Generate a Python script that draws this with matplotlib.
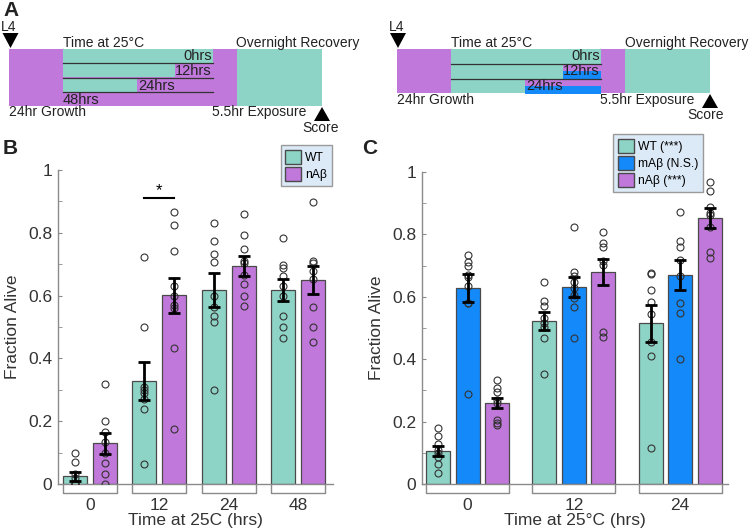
import numpy as np
import matplotlib
matplotlib.use("Agg")
import matplotlib.pyplot as plt
from matplotlib.patches import Rectangle, Polygon, Patch

plt.rcParams['font.family'] = ['Liberation Sans', 'DejaVu Sans']

TEAL = '#8dd4c6'
PURPLE = '#c078da'
BLUE = '#1489fa'
EDGE = '#4a4a4a'
GRAY = '#8a8a8a'
TXT = '#222222'

# panel B data
b_times = ['0', '12', '24', '48']
b_wt_mean = [0.025, 0.329, 0.617, 0.619]
b_wt_sem = [0.014, 0.060, 0.054, 0.035]
b_n_mean = [0.130, 0.601, 0.694, 0.650]
b_n_sem = [0.034, 0.055, 0.032, 0.045]
b_wt_pts = [
    [0.10, 0.07, 0.033, 0.02, 0.0, 0.0, 0.0, 0.0, 0.0],
    [0.724, 0.50, 0.31, 0.30, 0.29, 0.27, 0.24, 0.064],
    [0.832, 0.773, 0.732, 0.708, 0.60, 0.565, 0.536, 0.515, 0.298],
    [0.784, 0.698, 0.689, 0.663, 0.631, 0.60, 0.535, 0.50, 0.466],
]
b_n_pts = [
    [0.32, 0.20, 0.167, 0.133, 0.10, 0.067, 0.033, 0.0],
    [0.865, 0.826, 0.741, 0.632, 0.60, 0.57, 0.561, 0.432, 0.176],
    [0.861, 0.792, 0.748, 0.71, 0.703, 0.665, 0.636, 0.60, 0.567],
    [0.899, 0.71, 0.703, 0.678, 0.653, 0.565, 0.50, 0.453],
]

# panel C data
c_times = ['0', '12', '24']
c_wt_mean = [0.107, 0.522, 0.515]
c_wt_sem = [0.016, 0.028, 0.059]
c_m_mean = [0.628, 0.632, 0.670]
c_m_sem = [0.046, 0.032, 0.048]
c_n_mean = [0.259, 0.680, 0.854]
c_n_sem = [0.017, 0.041, 0.032]
c_wt_pts = [
    [0.18, 0.155, 0.128, 0.11, 0.10, 0.088, 0.063, 0.034],
    [0.648, 0.587, 0.571, 0.531, 0.517, 0.504, 0.469, 0.353],
    [0.677, 0.673, 0.622, 0.584, 0.544, 0.456, 0.411, 0.114],
]
c_m_pts = [
    [0.734, 0.71, 0.70, 0.67, 0.665, 0.635, 0.58, 0.58, 0.29],
    [0.825, 0.679, 0.668, 0.648, 0.627, 0.606, 0.595, 0.568, 0.467],
    [0.873, 0.779, 0.761, 0.718, 0.668, 0.579, 0.549, 0.40],
]
c_n_pts = [
    [0.333, 0.307, 0.296, 0.27, 0.26, 0.205, 0.196, 0.19],
    [0.807, 0.771, 0.761, 0.715, 0.702, 0.486, 0.47],
    [0.969, 0.939, 0.887, 0.87, 0.862, 0.825, 0.743, 0.725],
]


def style_axes(ax, xlim):
    ax.set_xlim(*xlim)
    ax.set_ylim(0, 1)
    for s in ['top', 'right']:
        ax.spines[s].set_visible(False)
    for s in ['left', 'bottom']:
        ax.spines[s].set_color(GRAY)
        ax.spines[s].set_linewidth(1)
    ax.set_yticks(np.arange(0, 1.01, 0.2))
    ax.set_yticklabels(['0', '0.2', '0.4', '0.6', '0.8', '1'])
    ax.set_yticks(np.arange(0.1, 1.0, 0.2), minor=True)
    ax.tick_params(axis='y', which='both', direction='in', length=3,
                   color=GRAY, labelsize=12.5, labelcolor='#333333', pad=4)
    ax.tick_params(axis='x', length=0, labelsize=12.5, labelcolor='#333333', pad=10)
    ax.set_ylabel('Fraction Alive', fontsize=12.5, color='#333333', labelpad=6)


def draw_group(ax, centers, offsets, width, means, sems, pts, colors):
    for k, (m, s, p, col) in enumerate(zip(means, sems, pts, colors)):
        x = centers + offsets[k]
        ax.bar(x, m, width=width, color=col, edgecolor=EDGE, linewidth=0.9, zorder=2)
        for xi, vals in zip(x, p):
            ax.plot(np.full(len(vals), xi), vals, 'o', ms=5, mfc='none',
                    mec='#333333', mew=0.8, zorder=3)
        ax.errorbar(x, m, yerr=s, fmt='none', ecolor='black', elinewidth=2,
                    capsize=4, capthick=2, zorder=4)
    # brackets below each group
    lo = offsets[0] - width / 2
    hi = offsets[-1] + width / 2
    for c in centers:
        ax.plot([c + lo, c + lo, c + hi, c + hi], [0, -0.028, -0.028, 0],
                color=GRAY, lw=1, clip_on=False, zorder=1)


def add_legend(ax, handles, loc, anchor):
    ax.legend(handles=handles, loc=loc, bbox_to_anchor=anchor,
              bbox_transform=fig.transFigure, fontsize=8.7, fancybox=False,
              facecolor='#dce9f6', edgecolor='#9a9a9a', framealpha=1,
              handlelength=1.3, handleheight=1.4, handletextpad=0.35,
              borderpad=0.4, labelspacing=0.25, borderaxespad=0)


fig = plt.figure(figsize=(7.49, 5.31), dpi=100)

# ---- panel B
axB = fig.add_axes([0.0774, 0.0885, 0.3672, 0.5913])
xb = np.arange(len(b_times))
draw_group(axB, xb, [-0.216, 0.216], 0.345,
           [b_wt_mean, b_n_mean], [b_wt_sem, b_n_sem], [b_wt_pts, b_n_pts],
           [TEAL, PURPLE])
style_axes(axB, (-0.46, 3.5))
axB.set_xticks(xb)
axB.set_xticklabels(b_times)
axB.set_xlabel('Time at 25C (hrs)', fontsize=12.5, color='#333333', labelpad=0)
axB.plot([1 - 0.216, 1 + 0.216], [0.91, 0.91], color='black', lw=1.5)
axB.text(1, 0.912, '*', ha='center', va='bottom', fontsize=12)
add_legend(axB, [Patch(facecolor=TEAL, edgecolor=EDGE, label='WT'),
                 Patch(facecolor=PURPLE, edgecolor=EDGE, label='nAβ')],
           'upper right', (332 / 749, 1 - 145 / 531))

# ---- panel C
axC = fig.add_axes([0.5634, 0.0885, 0.4085, 0.5876])
xc = np.arange(len(c_times))
draw_group(axC, xc, [-0.278, 0.0, 0.278], 0.226,
           [c_wt_mean, c_m_mean, c_n_mean], [c_wt_sem, c_m_sem, c_n_sem],
           [c_wt_pts, c_m_pts, c_n_pts], [TEAL, BLUE, PURPLE])
style_axes(axC, (-0.43, 2.45))
axC.set_xticks(xc)
axC.set_xticklabels(c_times)
axC.set_xlabel('Time at 25°C (hrs)', fontsize=12.5, color='#333333', labelpad=0)
add_legend(axC, [Patch(facecolor=TEAL, edgecolor=EDGE, label='WT (***)'),
                 Patch(facecolor=BLUE, edgecolor=EDGE, label='mAβ (N.S.)'),
                 Patch(facecolor=PURPLE, edgecolor=EDGE, label='nAβ (***)')],
           'upper left', (613 / 749, 1 - 134 / 531))

# ---- panel A schematic, drawn in pixel coordinates
ax0 = fig.add_axes([0, 0, 1, 1], zorder=-1)
ax0.set_xlim(0, 749)
ax0.set_ylim(531, 0)
ax0.axis('off')


def rect(x0, y0, x1, y1, col):
    ax0.add_patch(Rectangle((x0, y0), x1 - x0, y1 - y0, facecolor=col,
                            edgecolor='none'))


def txt(x, y, s, ha='left', size=10, **kw):
    ax0.text(x, y, s, ha=ha, va='center', fontsize=size, color=TXT, **kw)


def tri(x, y, down=True):
    h = 15 if down else -14
    ax0.add_patch(Polygon([(x - 8, y), (x + 8, y), (x, y + h)],
                          closed=True, facecolor='black', edgecolor='none'))


# left schematic
rect(9, 49, 237, 106, PURPLE)
rect(237, 49, 322, 106, TEAL)
left_rows_y = [49, 63, 78, 92]
left_rows_teal_end = [213, 175, 137, 63]
for y, xe in zip(left_rows_y, left_rows_teal_end):
    rect(63, y, xe, y + 14, TEAL)
for y in left_rows_y[1:]:
    ax0.plot([63, 213], [y, y], color='#333333', lw=0.9)
tri(10.5, 33)
tri(322, 121, down=False)
txt(9, 27, 'L4', ha='center')
txt(63, 43, 'Time at 25°C')
txt(236, 43, 'Overnight Recovery')
txt(212, 56, '0hrs', ha='right', size=10.5)
txt(212, 71, '12hrs', ha='right', size=10.5)
txt(138, 85.5, '24hrs', size=10.5)
txt(63, 99.5, '48hrs', size=10.5)
txt(9, 112, '24hr Growth')
txt(212, 112, '5.5hr Exposure')
txt(302, 128, 'Score')

# right schematic
rect(397, 49, 451, 93, PURPLE)
rect(451, 49, 601, 93, TEAL)
rect(601, 49, 625, 93, PURPLE)
rect(625, 49, 710, 93, TEAL)
right_rows_y = [64, 79]
right_rows_start = [563, 525]
for y, xs in zip(right_rows_y, right_rows_start):
    rect(xs, y, 601, y + 7, PURPLE)
    rect(xs, y + 7, 601, y + 14.5, BLUE)
for y in [63.5, 78.5]:
    ax0.plot([451, 601], [y, y], color='#333333', lw=0.9)
tri(398, 33)
tri(710, 108, down=False)
txt(397, 27, 'L4', ha='center')
txt(451, 43, 'Time at 25°C')
txt(625, 43, 'Overnight Recovery')
txt(600, 56, '0hrs', ha='right', size=10.5)
txt(600, 71, '12hrs', ha='right', size=10.5)
txt(526, 86, '24hrs', size=10.5)
txt(397, 100, '24hr Growth')
txt(600, 100, '5.5hr Exposure')
txt(706, 115, 'Score', ha='center')

# panel letters
txt(11, 10, 'A', ha='center', size=15, fontweight='bold')
txt(10, 148, 'B', ha='center', size=15, fontweight='bold')
txt(370, 148, 'C', ha='center', size=15, fontweight='bold')

fig.savefig('out.png', dpi=100)
